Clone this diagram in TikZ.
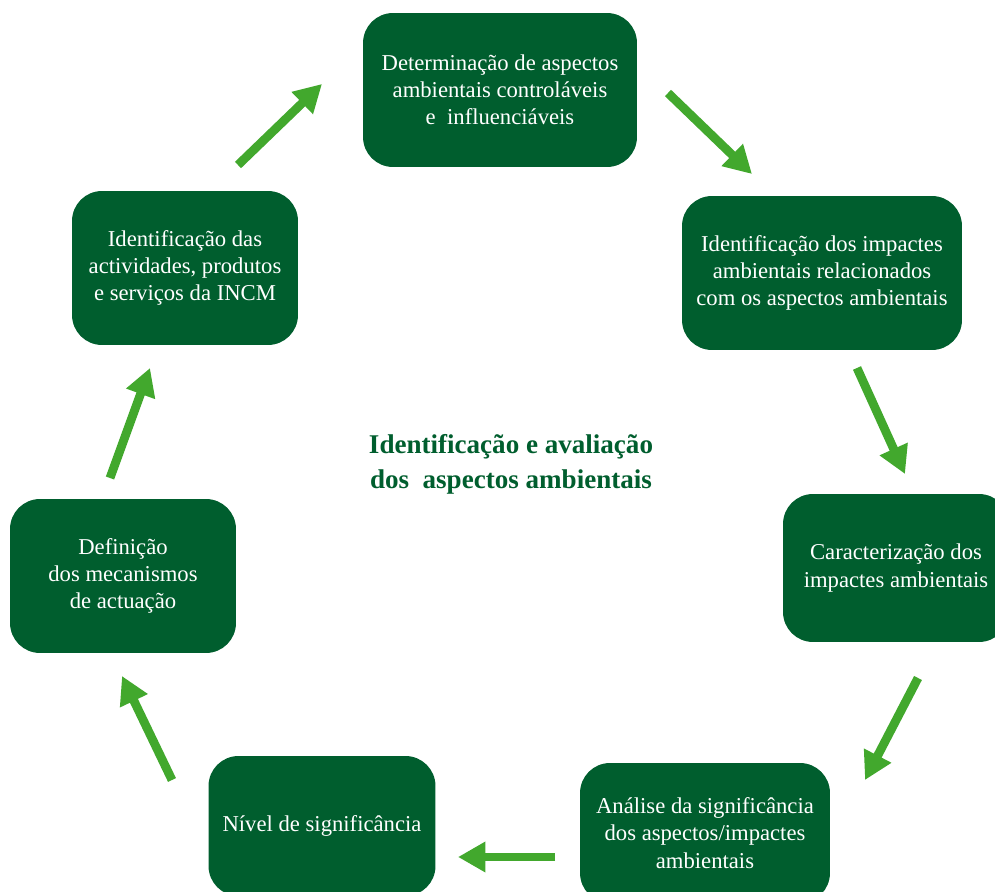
\documentclass[tikz,border=0pt]{standalone}
\usepackage{fontspec}
\setmainfont{Liberation Serif}
\usepackage{xcolor}
\usetikzlibrary{
    arrows.meta,
    positioning
}
\definecolor{boxgreen}{RGB}{0,94,46}
\definecolor{arrowgreen}{RGB}{66,168,45}

\tikzset{
    stage/.style={draw=none, fill=boxgreen, text=white, rounded corners=0.6cm,
        align=center, font=\fontsize{12.9}{15.5}\selectfont, inner sep=2pt},
    flow/.style={draw=arrowgreen, line width=5pt,
        -{Triangle[length=0.55cm, width=0.58cm]}}
}

\begin{document}
\begin{tikzpicture}[x=0.02cm, y=-0.02cm]
    \useasboundingbox[fill=white] (0, 0) rectangle (995, 892);

    \node[stage, minimum width=5.48cm, minimum height=3.08cm] (determinacao) at (500, 90) {
        Determinação de aspectos\\ambientais controláveis\\e~~influenciáveis};
    \node[stage, minimum width=5.6cm, minimum height=3.08cm] (impactes) at (822, 273) {
        Identificação dos impactes\\ambientais relacionados\\com os aspectos ambientais};
    \node[stage, minimum width=4.52cm, minimum height=2.96cm] (caracterizacao) at (896, 568) {
        Caracterização dos\\impactes ambientais};
    \node[stage, minimum width=5cm, minimum height=2.8cm] (analise) at (705, 833) {
        Análise da significância\\dos aspectos/impactes\\ambientais};
    \node[stage, minimum width=4.54cm, minimum height=2.8cm] (nivel) at (322, 826) {
        Nível de significância};
    \node[stage, minimum width=4.52cm, minimum height=3.08cm] (definicao) at (123, 576) {
        Definição\\dos mecanismos\\de actuação};
    \node[stage, minimum width=4.52cm, minimum height=3.08cm] (actividades) at (185, 268) {
        Identificação das\\actividades, produtos\\e serviços da INCM};

    \node[text=boxgreen, align=center, font=\fontsize{15.4}{20}\selectfont\bfseries] (titulo) at (511, 464) {
        Identificação e avaliação\\dos~~aspectos ambientais};

    % arrow ends
    \coordinate (a1s) at (238, 165);  \coordinate (a1e) at (322, 84);
    \coordinate (a2s) at (668, 93);   \coordinate (a2e) at (752, 174);
    \coordinate (a3s) at (857, 368);  \coordinate (a3e) at (905, 474);
    \coordinate (a4s) at (918, 678);  \coordinate (a4e) at (865, 780);
    \coordinate (a5s) at (555, 857);  \coordinate (a5e) at (458, 857);
    \coordinate (a6s) at (172, 780);  \coordinate (a6e) at (122, 676);
    \coordinate (a7s) at (110, 478);  \coordinate (a7e) at (150, 368);

    \draw
    (a1s) edge[flow] (a1e)
    (a2s) edge[flow] (a2e)
    (a3s) edge[flow] (a3e)
    (a4s) edge[flow] (a4e)
    (a5s) edge[flow] (a5e)
    (a6s) edge[flow] (a6e)
    (a7s) edge[flow] (a7e);
\end{tikzpicture}
\end{document}
